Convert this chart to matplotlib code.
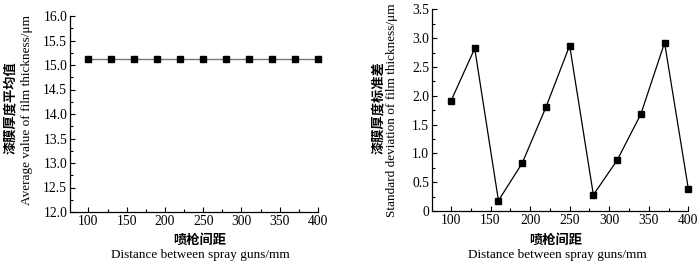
import numpy as np
import matplotlib
matplotlib.use("Agg")
import matplotlib.pyplot as plt
from matplotlib.ticker import MultipleLocator, FuncFormatter

#data
spacing = [100, 130, 160, 190, 220, 250, 280, 310, 340, 370, 400]
avg_thickness = [15.12, 15.12, 15.12, 15.12, 15.12, 15.12, 15.12, 15.12, 15.12, 15.12, 15.12]
std_thickness = [1.91, 2.82, 0.18, 0.83, 1.80, 2.87, 0.28, 0.88, 1.68, 2.92, 0.39]

xlabel_cn = "喷枪间距"
xlabel_en = "Distance between spray guns/mm"
ylabel1_cn = "漆膜厚度平均值"
ylabel1_en = "Average value of film thickness/μm"
ylabel2_cn = "漆膜厚度标准差"
ylabel2_en = "Standard deviation of film thickness/μm"

plt.rcParams['font.family'] = ['Liberation Serif', 'Noto Sans CJK SC']
cn_font = ['Noto Sans CJK SC', 'DejaVu Sans']
en_font = ['Liberation Serif', 'DejaVu Serif']

fig = plt.figure(figsize=(7.0, 2.64), dpi=100)
ax1 = fig.add_axes([70/700, 1-212/264, 248/700, 196/264])
ax2 = fig.add_axes([432/700, 1-211/264, 256.3/700, 201.7/264])

def style_axes(ax):
    ax.spines['top'].set_visible(False)
    ax.spines['right'].set_visible(False)
    ax.spines['left'].set_linewidth(0.9)
    ax.spines['bottom'].set_linewidth(0.9)
    ax.tick_params(which='both', direction='in', top=False, right=False, labelsize=9.8, pad=2)
    ax.tick_params(which='major', length=3.5, width=0.8)
    ax.tick_params(which='minor', length=2, width=0.8)
    ax.set_xlim(76, 400)
    ax.xaxis.set_major_locator(MultipleLocator(50))
    ax.xaxis.set_minor_locator(MultipleLocator(25))

#left chart: average thickness
ax1.plot(spacing, avg_thickness, color='#777777', lw=1.0, marker='s', ms=4.5,
         mfc='black', mec='black', clip_on=False)
style_axes(ax1)
ax1.set_ylim(12.0, 16.0)
ax1.yaxis.set_major_locator(MultipleLocator(0.5))
ax1.yaxis.set_minor_locator(MultipleLocator(0.25))
ax1.yaxis.set_major_formatter(FuncFormatter(lambda v, p: f"{v:.1f}"))

#right chart: standard deviation
ax2.plot(spacing, std_thickness, color='black', lw=0.9, marker='s', ms=4.5,
         mfc='black', mec='black', clip_on=False)
style_axes(ax2)
ax2.set_ylim(0, 3.5)
ax2.yaxis.set_major_locator(MultipleLocator(0.5))
ax2.yaxis.set_minor_locator(MultipleLocator(0.25))
ax2.yaxis.set_major_formatter(FuncFormatter(lambda v, p: "0" if v == 0 else f"{v:.1f}"))

#labels
fig.text(200/700, 1-240/264, xlabel_cn, family=cn_font, fontweight='bold', fontsize=9.5, ha='center', va='center')
fig.text(200/700, 1-255/264, xlabel_en, family=en_font, fontsize=9.5, ha='center', va='center')
fig.text(556/700, 1-240/264, xlabel_cn, family=cn_font, fontweight='bold', fontsize=9.5, ha='center', va='center')
fig.text(557/700, 1-255/264, xlabel_en, family=en_font, fontsize=9.5, ha='center', va='center')

fig.text(10/700, 1-108/264, ylabel1_cn, family=cn_font, fontweight='bold', fontsize=9.5, rotation=90, ha='center', va='center')
fig.text(27/700, 1-110/264, ylabel1_en, family=en_font, fontsize=9.5, rotation=90, ha='center', va='center')
fig.text(378/700, 1-108/264, ylabel2_cn, family=cn_font, fontweight='bold', fontsize=9.5, rotation=90, ha='center', va='center')
fig.text(392/700, 1-110/264, ylabel2_en, family=en_font, fontsize=9.5, rotation=90, ha='center', va='center')

fig.savefig("out.png", dpi=100)
